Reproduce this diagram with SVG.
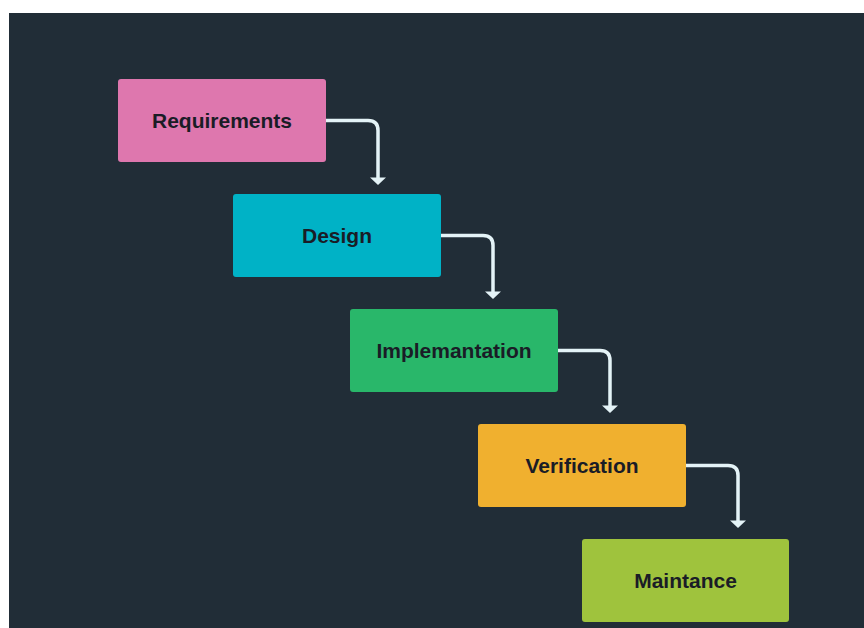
<svg xmlns="http://www.w3.org/2000/svg" width="864" height="628" viewBox="0 0 864 628">
<defs>
<style>
.box{stroke:none}
.lbl{font-family:"Liberation Sans",Arial,sans-serif;font-weight:bold;font-size:21px;fill:#1a1c26;text-anchor:middle}
.conn{fill:none;stroke:#e4f3f7;stroke-width:3.5}
.head{fill:#e4f3f7}
</style>
</defs>
<rect x="0" y="0" width="864" height="628" fill="#ffffff"/>
<rect x="9" y="13" width="855" height="615" fill="#212d37"/>
<g id="connectors">
<path class="conn" d="M326 120.5 H368 Q378 120.5 378 130.5 V178"/>
<polygon class="head" points="370,177.5 386,177.5 378,185"/>
<path class="conn" d="M441 235.5 H483 Q493 235.5 493 245.5 V292"/>
<polygon class="head" points="485,291.5 501,291.5 493,299"/>
<path class="conn" d="M558 350.5 H600 Q610 350.5 610 360.5 V406"/>
<polygon class="head" points="602,405.5 618,405.5 610,413"/>
<path class="conn" d="M686 465.5 H728 Q738 465.5 738 475.5 V521"/>
<polygon class="head" points="730,520.5 746,520.5 738,528"/>
</g>
<g id="requirements">
<rect class="box" x="118" y="79" width="208" height="83" rx="3" fill="#de77ae"/>
<text class="lbl" x="222" y="128">Requirements</text>
</g>
<g id="design">
<rect class="box" x="233" y="194" width="208" height="83" rx="3" fill="#00b2c6"/>
<text class="lbl" x="337" y="243">Design</text>
</g>
<g id="implementation">
<rect class="box" x="350" y="309" width="208" height="83" rx="3" fill="#29b76a"/>
<text class="lbl" x="454" y="358">Implemantation</text>
</g>
<g id="verification">
<rect class="box" x="478" y="424" width="208" height="83" rx="3" fill="#f0b02f"/>
<text class="lbl" x="582" y="473">Verification</text>
</g>
<g id="maintance">
<rect class="box" x="582" y="539" width="207" height="83" rx="3" fill="#9fc33d"/>
<text class="lbl" x="685.5" y="588">Maintance</text>
</g>
</svg>
